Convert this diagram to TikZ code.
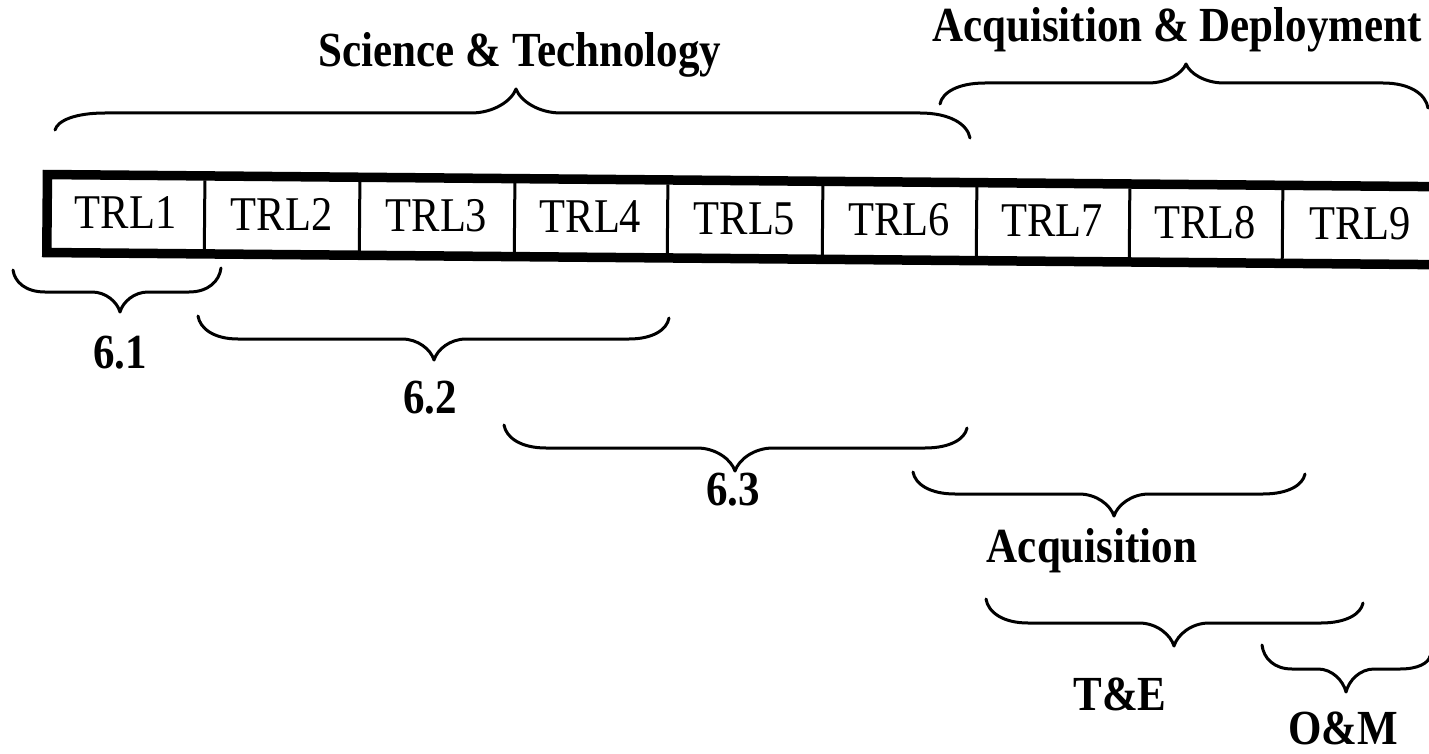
\documentclass[tikz,border=0pt]{standalone}
\usepackage{fontspec}
\setmainfont{Liberation Serif}
\tikzset{
  bracestyle/.style={line width=3pt, line cap=round, line join=round},
  trl/.style={font=\fontsize{42.5}{42.5}\selectfont, anchor=base, inner sep=0pt},
  lbl/.style={font=\bfseries\fontsize{43}{43}\selectfont, anchor=base, inner sep=0pt},
}
% #1 x1, #2 y1, #3 x2, #4 y2, #5 x tip, #6 y line, #7 y tip, #8 arm width, #9 tip half width
\newcommand\mybrc[9]{%
  \draw[bracestyle] (#1,#2) .. controls ({#1+0.05*#8},{#6+0.45*(#2-#6)}) and ({#1+0.4*#8},#6) .. ({#1+#8},#6)
   -- ({#5-#9},#6) .. controls ({#5-0.5*#9},#6) and ({#5-0.1*#9},{#6+0.5*(#7-#6)}) .. (#5,#7)
   .. controls ({#5+0.1*#9},{#6+0.5*(#7-#6)}) and ({#5+0.5*#9},#6) .. ({#5+#9},#6)
   -- ({#3-#8},#6) .. controls ({#3-0.4*#8},#6) and ({#3-0.05*#8},{#6+0.45*(#4-#6)}) .. (#3,#4);}
\newcommand\vs[1]{\scalebox{1}[1.14]{#1}}
\begin{document}
\begin{tikzpicture}[x=1pt,y=-1pt]
\useasboundingbox (0,0) rectangle (1429,754);
\clip (0,0) rectangle (1429,754);
\fill[white] (0,0) rectangle (1429,754);

% the TRL bar
\begin{scope}[rotate around={-0.5:(43,170)}]
  \draw[line width=9.5pt] (47.5,174.5) rectangle (1445,252.5);
  \foreach \x in {205,360,515,668,823,977,1130,1283}
    \draw[line width=3pt] (\x,179) -- (\x,248);
  \node[trl] (t1) at (126,228) {\vs{TRL1}};
  \node[trl] (t2) at (282,228) {\vs{TRL2}};
  \node[trl] (t3) at (437,228) {\vs{TRL3}};
  \node[trl] (t4) at (591,228) {\vs{TRL4}};
  \node[trl] (t5) at (745,228) {\vs{TRL5}};
  \node[trl] (t6) at (900,228) {\vs{TRL6}};
  \node[trl] (t7) at (1053,228) {\vs{TRL7}};
  \node[trl] (t8) at (1206,228) {\vs{TRL8}};
  \node[trl] (t9) at (1361,228) {\vs{TRL9}};
\end{scope}

% braces
\mybrc{55}{130}{970}{138}{516}{113}{89}{50}{45}
\mybrc{940}{104}{1428}{108}{1186}{83}{64}{45}{38}
\mybrc{13}{270}{221}{268}{120}{292}{312}{32}{28}
\mybrc{198}{316}{669}{318}{434}{339}{360}{40}{32}
\mybrc{504}{425}{967}{428}{735}{448}{471}{42}{38}
\mybrc{913}{472}{1305}{474}{1114}{494}{516}{42}{35}
\mybrc{986}{599}{1363}{603}{1174}{623}{646}{42}{35}
\mybrc{1262}{645}{1430}{656}{1346}{669}{692}{30}{28}

% labels
\node[lbl] (st)  at (520,67)   {\vs{Science \& Technology}};
\node[lbl] (ad)  at (1177,42)  {\vs{Acquisition \& Deployment}};
\node[lbl] (l61) at (120,368)  {\vs{6.1}};
\node[lbl] (l62) at (430,413)  {\vs{6.2}};
\node[lbl] (l63) at (733,505)  {\vs{6.3}};
\node[lbl] (acq) at (1092,562) {\vs{Acquisition}};
\node[lbl] (te)  at (1120,710) {\vs{T\&E}};
\node[lbl] (om)  at (1343,744) {\vs{O\&M}};
\end{tikzpicture}
\end{document}
